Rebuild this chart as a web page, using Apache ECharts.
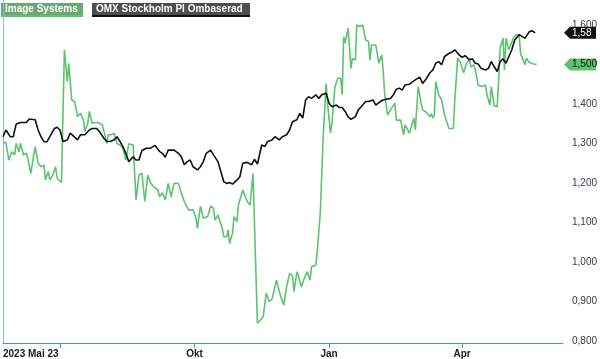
<!DOCTYPE html>
<html><head><meta charset="utf-8">
<script src="https://cdn.jsdelivr.net/npm/echarts@6/dist/echarts.min.js"></script>
<style>html,body{margin:0;padding:0;background:#fff}#c{width:600px;height:359px}</style>
</head><body><div id="c"></div>
<script>
// Day offsets are counted from the start date 2023-05-23
const startDate = '2023-05-23';
const endDay = 383;
const seriesNames = ['Image Systems', 'OMX Stockholm PI Ombaserad'];

const greenDays = [0,2,4,6,8,9,11,12,14,16,17,19,22,24,26,28,29,31,32,34,36,37,38,40,42,44,45,47,49,51,53,55,56,58,59,61,63,65,68,69,71,72,74,76,78,80,82,84,86,89,91,93,95,97,99,101,103,106,107,109,111,113,115,117,120,122,124,125,127,130,132,133,135,137,140,142,144,145,147,150,151,153,154,155,157,158,160,161,164,165,167,169,171,174,176,178,179,180,182,184,187,188,190,192,194,196,198,199,201,202,204,206,208,210,211,214,215,216,217,219,221,222,224,225,227,229,231,232,233,234,236,238,239,241,242,244,246,248,250,251,252,255,257,259,260,261,263,265,268,269,272,274,275,278,279,281,282,284,286,287,289,292,293,294,295,296,298,300,302,305,306,308,309,311,313,315,317,319,320,322,323,325,327,330,331,333,334,336,338,339,340,342,343,344,346,349,351,353,354,357,358,360,361,363,365];
const greenVals = [1.302,1.302,1.258,1.279,1.271,1.300,1.279,1.300,1.271,1.275,1.262,1.224,1.292,1.250,1.241,1.245,1.208,1.229,1.208,1.220,1.241,1.212,1.216,1.201,1.537,1.456,1.503,1.410,1.406,1.368,1.376,1.360,1.330,1.351,1.381,1.351,1.353,1.353,1.347,1.343,1.300,1.322,1.322,1.326,1.300,1.296,1.288,1.258,1.299,1.296,1.157,1.220,1.224,1.153,1.220,1.199,1.191,1.182,1.165,1.175,1.157,1.199,1.165,1.199,1.199,1.174,1.153,1.153,1.132,1.132,1.111,1.085,1.141,1.111,1.115,1.141,1.136,1.106,1.119,1.085,1.064,1.064,1.081,1.047,1.073,1.115,1.102,1.144,1.182,1.182,1.153,1.144,1.224,0.845,0.853,0.862,0.866,0.921,0.900,0.906,0.954,0.953,0.912,0.891,0.937,0.971,0.965,0.925,0.975,0.966,0.937,0.958,0.975,0.954,0.988,0.992,1.030,1.030,1.123,1.317,1.452,1.400,1.326,1.351,1.443,1.465,1.465,1.423,1.570,1.554,1.592,1.490,1.515,1.511,1.600,1.596,1.600,1.562,1.558,1.511,1.549,1.549,1.503,1.524,1.486,1.427,1.372,1.385,1.402,1.359,1.359,1.322,1.347,1.326,1.326,1.364,1.334,1.444,1.402,1.385,1.381,1.368,1.375,1.364,1.372,1.456,1.423,1.410,1.372,1.338,1.334,1.338,1.410,1.516,1.503,1.479,1.503,1.512,1.494,1.499,1.486,1.448,1.444,1.448,1.423,1.397,1.444,1.395,1.393,1.458,1.541,1.566,1.486,1.566,1.537,1.566,1.575,1.575,1.528,1.499,1.516,1.505,1.505,1.501,1.500];

const blackDays = [0,2,5,7,9,12,16,18,22,24,26,28,30,32,35,37,39,41,44,46,49,51,53,56,59,61,64,66,69,71,73,76,78,80,82,84,86,89,91,93,95,98,101,104,107,109,111,113,117,120,122,124,126,128,130,133,135,137,139,142,144,147,149,151,153,155,157,160,162,164,167,170,172,174,177,179,181,184,186,189,191,194,196,198,201,203,205,207,209,211,214,216,218,221,223,225,228,230,232,234,236,238,241,243,245,248,250,253,255,258,260,262,265,267,269,271,273,275,278,280,282,285,287,289,292,294,296,298,300,302,305,307,309,312,314,316,319,321,323,325,327,330,332,334,336,338,340,342,344,346,348,350,353,355,357,360,362,364];
const blackVals = [1.317,1.334,1.317,1.317,1.349,1.353,1.353,1.362,1.360,1.334,1.317,1.305,1.304,1.317,1.337,1.341,1.334,1.305,1.309,1.326,1.316,1.309,1.322,1.322,1.334,1.338,1.338,1.330,1.313,1.305,1.305,1.309,1.317,1.305,1.292,1.275,1.254,1.266,1.258,1.258,1.282,1.288,1.288,1.295,1.280,1.275,1.265,1.283,1.283,1.275,1.266,1.246,1.254,1.258,1.241,1.233,1.241,1.254,1.275,1.283,1.271,1.254,1.229,1.203,1.199,1.201,1.197,1.207,1.216,1.250,1.252,1.246,1.260,1.248,1.296,1.292,1.305,1.309,1.317,1.309,1.317,1.322,1.334,1.355,1.360,1.376,1.364,1.410,1.418,1.414,1.423,1.414,1.423,1.427,1.402,1.393,1.397,1.391,1.391,1.381,1.368,1.361,1.368,1.385,1.393,1.406,1.406,1.410,1.397,1.406,1.410,1.412,1.414,1.423,1.437,1.440,1.435,1.448,1.450,1.456,1.461,1.468,1.452,1.461,1.479,1.486,1.503,1.507,1.499,1.520,1.528,1.531,1.537,1.524,1.518,1.522,1.512,1.514,1.503,1.501,1.490,1.486,1.490,1.507,1.494,1.482,1.507,1.514,1.503,1.520,1.537,1.562,1.575,1.571,1.566,1.583,1.585,1.580];

const yTicks = [0.8,0.9,1.0,1.1,1.2,1.3,1.4,1.5,1.6];
const xTickDates = ['2023-07-01','2023-10-01','2024-01-01','2024-04-01'];
const xLabelDates = ['2023-05-23','2023-10-01','2024-01-01','2024-04-01'];
const xLabelTexts = ['2023 Mai 23','Okt','Jan','Apr'];

const DAY = 86400000;
const ts = s => { const p = s.split('-').map(Number); return Date.UTC(p[0], p[1]-1, p[2]); };
const t0 = ts(startDate);
const dayOf = s => Math.round((ts(s) - t0) / DAY);
const toPairs = (days, vals) => days.map((d, i) => [d, vals[i]]);
const fmt3 = v => v.toFixed(3).replace('.', ',');
const labelDays = xLabelDates.map(dayOf);

const GREEN = '#5cc46e', BLACK = '#111111';
const FONT = 'Liberation Sans, Arial, sans-serif';

const chart = echarts.init(document.getElementById('c'));
chart.setOption({
  animation: false,
  grid: {left: 0, right: 34, top: 0, bottom: 16},
  xAxis: {
    type: 'value', min: 0, max: endDay,
    axisLine: {lineStyle: {color: '#4f90bd', width: 1}},
    axisTick: {show: true, length: 5, lineStyle: {color: '#4f90bd'}, customValues: xTickDates.map(dayOf)},
    splitLine: {show: false},
    axisLabel: {
      customValues: labelDays, alignMinLabel: 'left',
      color: '#1a1a1a', fontWeight: 'bold', fontSize: 10, fontFamily: FONT, margin: 6,
      formatter: v => { const i = labelDays.indexOf(Math.round(v)); return i >= 0 ? xLabelTexts[i] : ''; }
    }
  },
  yAxis: {
    type: 'value', position: 'right', min: 0.795, max: 1.663,
    axisLine: {show: true, lineStyle: {color: '#8dbbd8', width: 1}},
    axisTick: {show: false}, splitLine: {show: false},
    axisLabel: {customValues: yTicks, color: '#3a3550', fontSize: 10, fontFamily: FONT, margin: 9, formatter: v => fmt3(v)}
  },
  series: [
    {name: seriesNames[0], type: 'line', data: toPairs(greenDays, greenVals), symbol: 'none',
     lineStyle: {color: GREEN, width: 1.6}},
    {name: seriesNames[1], type: 'line', data: toPairs(blackDays, blackVals), symbol: 'none',
     lineStyle: {color: BLACK, width: 1.6}}
  ]
});

function tag(value, label, bg, fg) {
  const y = chart.convertToPixel({yAxisIndex: 0}, value);
  const x = chart.convertToPixel({xAxisIndex: 0}, endDay) + 1;
  return [
    {type: 'polygon', z: 100, shape: {points: [[x, y], [x+6, y-6], [x+32, y-6], [x+32, y+6], [x+6, y+6]]}, style: {fill: bg}},
    {type: 'text', z: 101, x: x + 8, y: y, style: {text: label, fill: fg, font: '10px ' + FONT, verticalAlign: 'middle'}}
  ];
}
const lastG = greenVals[greenVals.length-1], lastB = blackVals[blackVals.length-1];
chart.setOption({
  graphic: [
    {type: 'rect', shape: {x: 1, y: 3, width: 82, height: 12}, style: {fill: '#6aa874'}},
    {type: 'rect', shape: {x: 1, y: 15, width: 82, height: 2}, style: {fill: GREEN}},
    {type: 'text', x: 5, y: 9, style: {text: seriesNames[0], fill: '#fff', font: 'bold 10px ' + FONT, verticalAlign: 'middle'}},
    {type: 'rect', shape: {x: 92, y: 3, width: 158, height: 12}, style: {fill: '#4e4e4e'}},
    {type: 'rect', shape: {x: 92, y: 15, width: 158, height: 2}, style: {fill: '#111'}},
    {type: 'text', x: 96, y: 9, style: {text: seriesNames[1], fill: '#fff', font: 'bold 10px ' + FONT, verticalAlign: 'middle'}},
    ...tag(lastB, lastB.toFixed(2).replace('.', ','), BLACK, '#fff'),
    ...tag(lastG, fmt3(lastG), GREEN, '#111')
  ]
});
</script>
</body></html>
